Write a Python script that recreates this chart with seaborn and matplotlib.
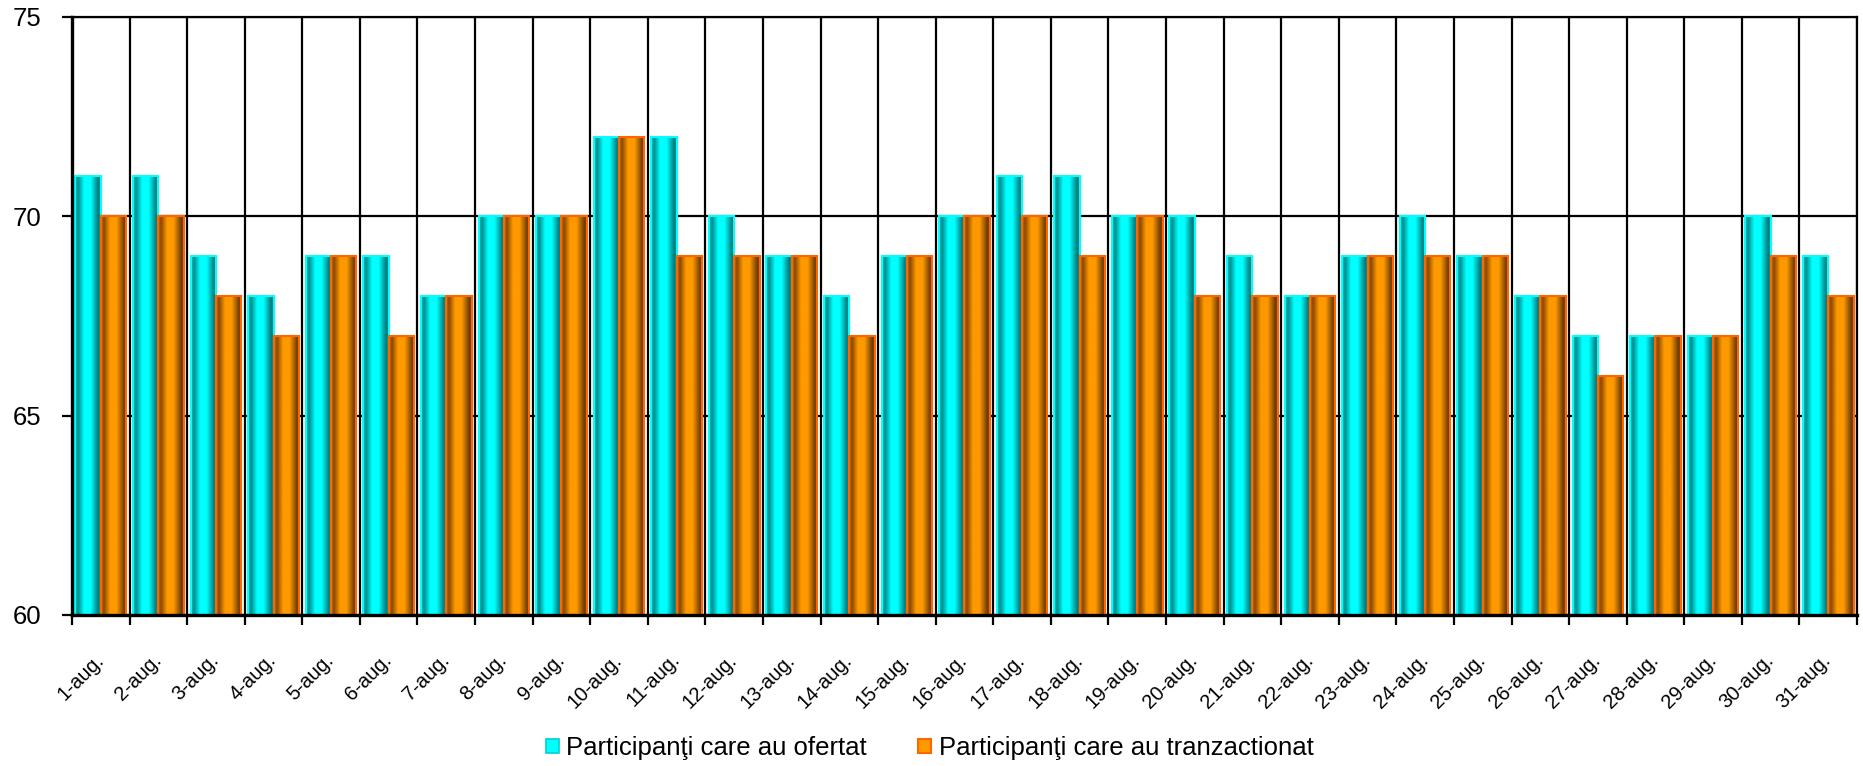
import numpy as np
import pandas as pd
import matplotlib
matplotlib.use("Agg")
import matplotlib.pyplot as plt
from matplotlib.colors import LinearSegmentedColormap
from matplotlib.patches import Patch
import seaborn as sns

dates = [f"{i}-aug." for i in range(1, 32)]
ofertat = [71, 71, 69, 68, 69, 69, 68, 70, 70, 72, 72, 70, 69, 68, 69, 70,
           71, 71, 70, 70, 69, 68, 69, 70, 69, 68, 67, 67, 67, 70, 69]
tranzactionat = [70, 70, 68, 67, 69, 67, 68, 70, 70, 72, 69, 69, 69, 67, 69, 70,
                 70, 69, 70, 68, 68, 68, 69, 69, 69, 68, 66, 67, 67, 69, 68]
series_names = ["Participanţi care au ofertat", "Participanţi care au tranzactionat"]
y_ticks = [60, 65, 70, 75]

df = pd.DataFrame({
    "date": dates * 2,
    "value": ofertat + tranzactionat,
    "series": [series_names[0]] * 31 + [series_names[1]] * 31,
})

sns.set_theme(style="white")
plt.rcParams["font.family"] = ["Liberation Sans", "DejaVu Sans"]
plt.rcParams["text.color"] = "black"
plt.rcParams["xtick.color"] = "black"
plt.rcParams["ytick.color"] = "black"

fig = plt.figure(figsize=(18.63, 7.66), dpi=100)
ax = fig.add_axes([72 / 1863, 1 - 615 / 766, (1857 - 72) / 1863, (615 - 17) / 766])

cyan = "#00FFFF"
orange = "#FF9900"
sns.barplot(data=df, x="date", y="value", hue="series", order=dates,
            hue_order=series_names, palette=[cyan, orange], width=0.88,
            gap=0, legend=False, ax=ax, saturation=1)

ymin, ymax = 60, 75
ax.set_ylim(ymin, ymax)
ax.set_xlim(-0.5, 30.5)

cmap_c = LinearSegmentedColormap.from_list("c", [(0, "#00CCCC"), (0.12, "#008B8B"), (0.35, "#00FFFF"),
                                                 (0.6, "#00FFFF"), (0.9, "#007A7A"), (1, "#009999")])
cmap_o = LinearSegmentedColormap.from_list("o", [(0, "#CC6600"), (0.12, "#8B4A00"), (0.35, "#FF9900"),
                                                 (0.6, "#FF9900"), (0.9, "#6E3C00"), (1, "#884400")])
grad = np.linspace(0, 1, 256).reshape(1, -1)
for p in list(ax.patches):
    fc = p.get_facecolor()
    is_cyan = fc[0] < 0.5
    x0, y0, w, h = p.get_x(), p.get_y(), p.get_width(), p.get_height()
    top = y0 + h
    ax.imshow(grad, cmap=cmap_c if is_cyan else cmap_o, aspect="auto",
              extent=[x0, x0 + w, max(y0, ymin), top], zorder=1.5, interpolation="bilinear")
    p.set_facecolor("none")
    p.set_edgecolor(cyan if is_cyan else "#FF6600")
    p.set_linewidth(1.5)
    p.set_zorder(1.6)

ax.set_ylim(ymin, ymax)
ax.set_xlim(-0.5, 30.5)

ax.set_yticks(y_ticks)
ax.set_yticklabels([str(v) for v in y_ticks], fontsize=18.5, color="black")
ax.set_xticks(range(31))
ax.set_xticklabels(dates, fontsize=14.5, rotation=45, ha="right", va="center",
                   rotation_mode="anchor", color="black")
ax.set_xticks(np.arange(-0.5, 31, 1), minor=True)
ax.tick_params(axis="x", which="major", length=0, pad=30)
ax.tick_params(axis="x", which="minor", length=7, width=1.6, color="black", direction="out", bottom=True)
ax.tick_params(axis="y", which="major", length=7, width=1.6, color="black", direction="out", left=True, pad=15)

ax.set_axisbelow(True)
ax.grid(axis="y", which="major", color="black", linewidth=1.6)
ax.grid(axis="x", which="minor", color="black", linewidth=1.6)
ax.grid(axis="x", which="major", visible=False)
for s in ax.spines.values():
    s.set_color("black")
    s.set_linewidth(1.6)
ax.spines["bottom"].set_linewidth(2.4)
ax.spines["left"].set_linewidth(2.4)
ax.set_xlabel("")
ax.set_ylabel("")

handles = [Patch(facecolor=cyan, edgecolor="#00D0D0", linewidth=1.2),
           Patch(facecolor=orange, edgecolor="#FF6600", linewidth=1.5)]
leg = fig.legend(handles, series_names, loc="center", bbox_to_anchor=(0.499, 1 - 748 / 766),
                 ncol=2, frameon=False, handlelength=0.5, handleheight=0.5,
                 handletextpad=0.3, columnspacing=2.0,
                 prop={"family": ["Liberation Sans", "DejaVu Sans"], "size": 18.5})
for t in leg.get_texts():
    t.set_color("black")

fig.savefig("out.png", dpi=100, facecolor="white")
